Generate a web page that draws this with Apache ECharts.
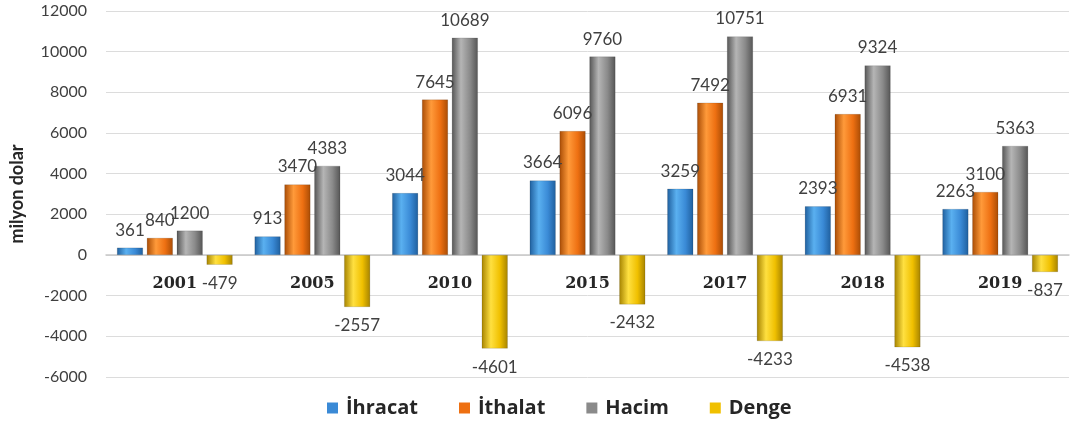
<!DOCTYPE html>
<html>
<head>
<meta charset="utf-8">
<script src="https://cdn.jsdelivr.net/npm/echarts@6/dist/echarts.min.js"></script>
<style>
  html, body { margin: 0; padding: 0; background: #fff; }
  #chart { width: 1077px; height: 428px; }
</style>
</head>
<body>
<div id="chart"></div>
<script>
// data
const years = ['2001', '2005', '2010', '2015', '2017', '2018', '2019'];
const ihracat = [361, 913, 3044, 3664, 3259, 2393, 2263];
const ithalat = [840, 3470, 7645, 6096, 7492, 6931, 3100];
const hacim = [1200, 4383, 10689, 9760, 10751, 9324, 5363];
const denge = [-479, -2557, -4601, -2432, -4233, -4538, -837];

// bar fill with darker edges so it looks a bit round
function shade(dark, mid, light) {
    return new echarts.graphic.LinearGradient(0, 0, 1, 0, [
        { offset: 0, color: dark },
        { offset: 0.35, color: light },
        { offset: 0.7, color: mid },
        { offset: 1, color: dark }
    ]);
}

const labelFont = { fontFamily: 'Lato', fontSize: 17, color: '#404040' };

function makeSeries(name, data, fill) {
    return {
        name: name,
        type: 'bar',
        data: data,
        barGap: '15%',
        barCategoryGap: '16%',
        itemStyle: { color: fill, borderColor: 'rgba(0,0,0,0.25)', borderWidth: 0.5 },
        label: Object.assign({
            show: true,
            position: 'top',
            distance: 9,
            formatter: function (p) { return p.value; }
        }, labelFont)
    };
}

const chart = echarts.init(document.getElementById('chart'));

const series = [
    makeSeries('İhracat', ihracat, shade('#1f5f9e', '#3a8ad6', '#5ab0f0')),
    makeSeries('İthalat', ithalat, shade('#a94c05', '#ee7012', '#ff9a3a')),
    makeSeries('Hacim', hacim, shade('#555555', '#8a8a8a', '#b5b5b5')),
    makeSeries('Denge', denge, shade('#a68300', '#f0c000', '#ffe040'))
];
// negative bars keep their label under the bar
series[3].label.position = 'bottom';
series[3].label.distance = 10;

const legendColors = ['#3a8ad6', '#ee7012', '#8a8a8a', '#f0c000'];

chart.setOption({
    backgroundColor: '#ffffff',
    animation: false,
    grid: { left: 105, right: 8, top: 11, bottom: 51 },
    legend: {
        bottom: 5,
        left: 322,
        itemWidth: 11,
        itemHeight: 11,
        itemGap: 41,
        icon: 'rect',
        textStyle: { fontFamily: 'Open Sans', fontSize: 20, fontWeight: 'bold', color: '#262626', padding: [0, 0, 0, 3] },
        data: ['İhracat', 'İthalat', 'Hacim', 'Denge'].map(function (n, i) {
            return { name: n, itemStyle: { color: legendColors[i], borderWidth: 0 } };
        })
    },
    xAxis: {
        type: 'category',
        data: years,
        // category names sit just under the zero line
        offset: -122,
        axisLine: { onZero: false, lineStyle: { color: '#c8c8c8', width: 1.5 } },
        axisTick: { show: false },
        axisLabel: {
            margin: 21,
            fontFamily: 'DejaVu Serif',
            fontWeight: 'bold',
            fontSize: 16,
            color: '#262626'
        }
    },
    yAxis: {
        type: 'value',
        min: -6000,
        max: 12000,
        interval: 2000,
        name: 'milyon dolar',
        nameLocation: 'middle',
        nameGap: 80,
        nameTextStyle: { fontFamily: 'Lato', fontSize: 18, fontWeight: 'bold', color: '#262626' },
        axisLine: { show: false },
        axisTick: { show: false },
        axisLabel: {
            margin: 19,
            fontFamily: 'Lato',
            fontSize: 16,
            color: '#404040',
            formatter: function (v) { return String(v); }
        },
        splitLine: { lineStyle: { color: '#dcdcdc', width: 1 } }
    },
    series: series
});
</script>
</body>
</html>
